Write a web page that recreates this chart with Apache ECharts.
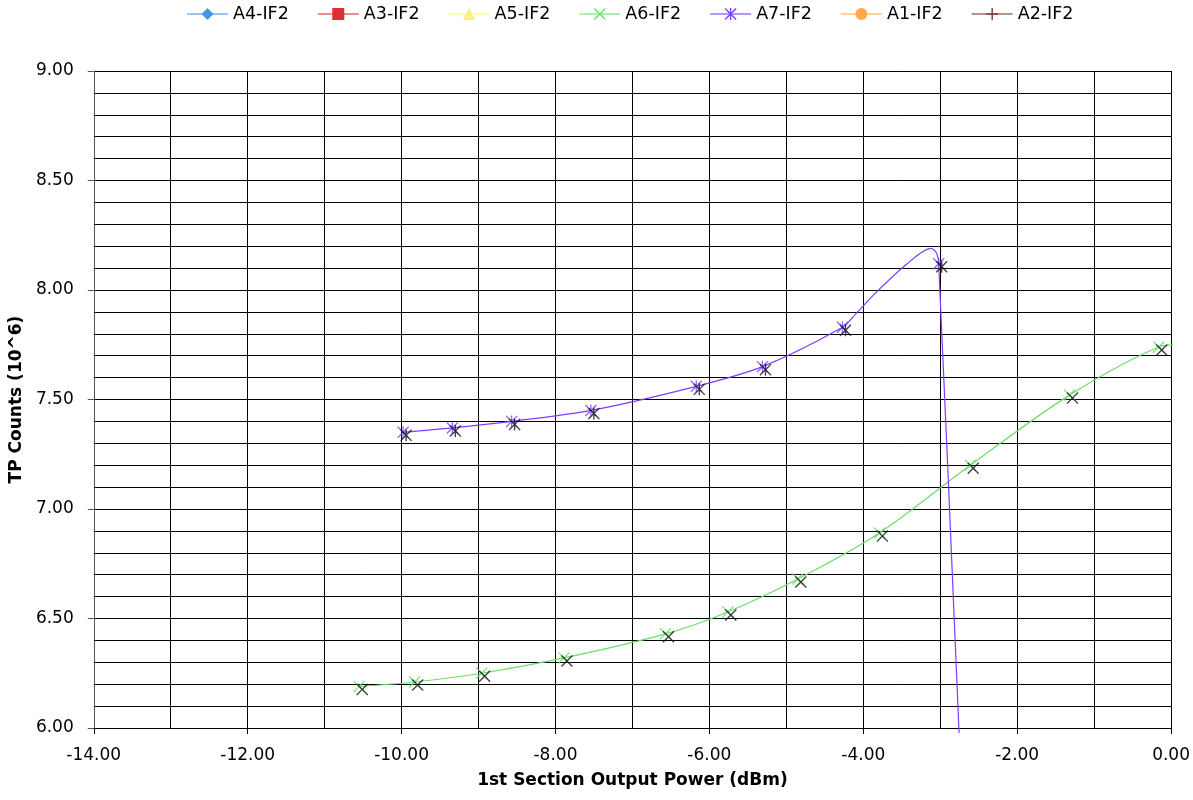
<!DOCTYPE html>
<html><head><meta charset="utf-8">
<script src="https://cdn.jsdelivr.net/npm/echarts@6/dist/echarts.min.js"></script>
<style>html,body{margin:0;padding:0;background:#fff}#chart{width:1193px;height:800px}</style>
</head><body><div id="chart"></div>
<script>
// ---- data ----
const seriesNames = ['A4-IF2', 'A3-IF2', 'A5-IF2', 'A6-IF2', 'A7-IF2', 'A1-IF2', 'A2-IF2'];
const xMin = -14, xMax = 0, xStep = 2, xMinorSplit = 2;
const yMin = 6, yMax = 9, yStep = 0.5, yMinorSplit = 5;

// empty series (legend only)
const a4X = [], a4Y = [];
const a3X = [], a3Y = [];
const a5X = [], a5Y = [];
const a1X = [], a1Y = [];
const a2X = [], a2Y = [];

// A6-IF2 (green)
const a6X = [-10.55, -9.83, -8.96, -7.89, -6.57, -5.76, -4.85, -3.79, -2.61, -1.32, -0.16, 0.09];
const a6Y = [6.19, 6.21, 6.25, 6.32, 6.43, 6.53, 6.68, 6.89, 7.20, 7.52, 7.74, 7.75];

// A7-IF2 (purple) data points
const a7X = [-9.98, -9.34, -8.57, -7.54, -6.17, -5.31, -4.27, -3.02, -2.755];
const a7Y = [7.35, 7.37, 7.40, 7.45, 7.56, 7.65, 7.83, 8.12, 5.977];
// extra vertices visible along the drawn A7 curve (smoothing overshoot near the peak)
const a7BendX = [-4.10, -3.83, -3.43, -3.12, -3.05];
const a7BendY = [7.89, 7.99, 8.12, 8.19, 8.17];

// ---- styles ----
const FONT = 'DejaVu Sans, Verdana, sans-serif';
const GRID_COLOR = '#000';
const colors = {
  'A4-IF2': '#4a94e6', 'A3-IF2': '#dd2f35', 'A5-IF2': '#fff07a', 'A6-IF2': '#6ade6a',
  'A7-IF2': '#7f3cff', 'A1-IF2': '#ffa947', 'A2-IF2': '#7e3b3b'
};
const SYM_X = 'path://M0,0.8L0.8,0L5,4.2L9.2,0L10,0.8L5.8,5L10,9.2L9.2,10L5,5.8L0.8,10L0,9.2L4.2,5Z';
const SYM_AST = SYM_X + 'M4.45,0L5.55,0L5.55,10L4.45,10Z';
const SYM_PLUS = 'path://M4.4,0L5.6,0L5.6,4.4L10,4.4L10,5.6L5.6,5.6L5.6,10L4.4,10L4.4,5.6L0,5.6L0,4.4L4.4,4.4Z';

function pairs(xs, ys) { return xs.map((x, i) => [x, ys[i]]); }
function inRange(ps) { return ps.filter(p => p[0] >= xMin && p[0] <= xMax && p[1] >= yMin && p[1] <= yMax); }

const a6Pts = pairs(a6X, a6Y);
const a7Pts = pairs(a7X, a7Y);
const a7Line = a7Pts.concat(pairs(a7BendX, a7BendY)).sort((a, b) => a[0] - b[0]);

function emptySeries(name, xs, ys, symbol) {
  return { name, type: 'line', data: pairs(xs, ys), symbol, symbolSize: 10, color: colors[name] };
}
function lineSeries(name, data, symbol) {
  return {
    name, type: 'line', data, symbol, showSymbol: false, clip: false, smooth: 0.3,
    color: colors[name], lineStyle: { width: 1.2, color: colors[name] }, z: 3, silent: true
  };
}
function markSeries(name, data, symbol, color, offset, z) {
  return {
    name, type: 'scatter', data, symbol, symbolSize: 12, symbolOffset: offset,
    itemStyle: { color }, z, silent: true
  };
}

const option = {
  animation: false,
  backgroundColor: '#fff',
  textStyle: { fontFamily: FONT, color: '#000' },
  grid: { left: 93, right: 21, top: 71, bottom: 72, containLabel: false },
  legend: {
    data: seriesNames, left: 186, top: 5, padding: 0,
    itemWidth: 41, itemHeight: 15, itemGap: 28,
    textStyle: { fontFamily: FONT, fontSize: 17.5, color: '#000' },
    lineStyle: { width: 2, opacity: 0.55 },
    itemStyle: { shadowBlur: 0, shadowColor: 'rgba(0,0,0,0)' }
  },
  xAxis: {
    type: 'value', min: xMin, max: xMax, interval: xStep,
    name: '1st Section Output Power (dBm)', nameLocation: 'middle', nameGap: 44,
    nameTextStyle: { fontFamily: FONT, fontWeight: 'bold', fontSize: 17, color: '#000' },
    axisLine: { onZero: false, lineStyle: { color: '#000', width: 1 } },
    axisTick: { show: true, length: 6, inside: false, lineStyle: { color: '#000' } },
    axisLabel: { formatter: v => v.toFixed(2), fontFamily: FONT, fontSize: 17, color: '#000', margin: 19 },
    splitLine: { show: true, lineStyle: { color: GRID_COLOR, width: 1 } },
    minorTick: { show: false, splitNumber: xMinorSplit },
    minorSplitLine: { show: true, lineStyle: { color: GRID_COLOR, width: 1 } }
  },
  yAxis: {
    type: 'value', min: yMin, max: yMax, interval: yStep,
    name: 'TP Counts (10^6)', nameLocation: 'middle', nameGap: 66, nameRotate: 90,
    nameTextStyle: { fontFamily: FONT, fontWeight: 'bold', fontSize: 17, color: '#000' },
    axisLine: { show: true, onZero: false, lineStyle: { color: '#555', width: 1 } },
    axisTick: { show: true, length: 6, inside: false, lineStyle: { color: '#555' } },
    axisLabel: { formatter: v => v.toFixed(2), fontFamily: FONT, fontSize: 17, color: '#000', margin: 20 },
    splitLine: { show: true, lineStyle: { color: GRID_COLOR, width: 1 } },
    minorTick: { show: false, splitNumber: yMinorSplit },
    minorSplitLine: { show: true, lineStyle: { color: GRID_COLOR, width: 1 } }
  },
  series: [
    emptySeries('A4-IF2', a4X, a4Y, 'diamond'),
    emptySeries('A3-IF2', a3X, a3Y, 'rect'),
    emptySeries('A5-IF2', a5X, a5Y, 'triangle'),
    lineSeries('A6-IF2', a6Pts, SYM_X),
    lineSeries('A7-IF2', a7Line, SYM_AST),
    emptySeries('A1-IF2', a1X, a1Y, 'circle'),
    emptySeries('A2-IF2', a2X, a2Y, SYM_PLUS),
    markSeries('A6-IF2', inRange(a6Pts), SYM_X, colors['A6-IF2'], [0, 0], 4),
    markSeries('A7-IF2', inRange(a7Pts), SYM_AST, colors['A7-IF2'], [0, 0], 4),
    markSeries('A6-IF2', inRange(a6Pts), SYM_X, '#111', [3, 3], 5),
    markSeries('A7-IF2', inRange(a7Pts), SYM_AST, '#111', [3, 3], 5)
  ]
};

const chart = echarts.init(document.getElementById('chart'), null, { renderer: 'canvas' });
chart.setOption(option);
</script>
</body></html>
